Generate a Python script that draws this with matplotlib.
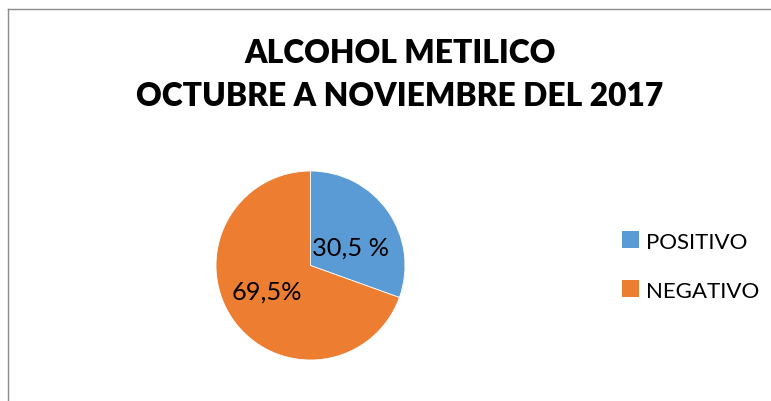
import matplotlib
matplotlib.use("Agg")
import matplotlib.pyplot as plt
from matplotlib.lines import Line2D
from matplotlib.patches import Rectangle

categories = ["POSITIVO", "NEGATIVO"]
values = [30.5, 69.5]
value_labels = ["30,5 %", "69,5%"]
colors = ["#5B9BD5", "#ED7D31"]
title_lines = ["ALCOHOL METILICO", "OCTUBRE A NOVIEMBRE DEL 2017"]

W, H = 771, 402
FONT = "Lato"
plt.rcParams["font.family"] = [FONT, "DejaVu Sans"]

fig = plt.figure(figsize=(W / 100, H / 100), dpi=100)
fig.patch.set_facecolor("white")

# chart frame (left and top edges visible)
fig.add_artist(Line2D([7.5 / W, 7.5 / W], [0, 1 - 9.5 / H], transform=fig.transFigure,
                      color="#8c8c8c", lw=1.0))
fig.add_artist(Line2D([7.5 / W, 1], [1 - 9.5 / H, 1 - 9.5 / H], transform=fig.transFigure,
                      color="#8c8c8c", lw=1.0))

# title
for yy, t in zip([53.5, 97], title_lines):
    fig.text(400 / W, 1 - yy / H, t, ha="center", va="center",
             fontsize=22.9, fontweight="heavy", color="black")

# pie
cx, cy, r = 310.5, 266.5, 94.5
ax = fig.add_axes([(cx - r) / W, (H - cy - r) / H, 2 * r / W, 2 * r / H])
wedges, _ = ax.pie(values, colors=colors, startangle=90, counterclock=False, radius=1,
                   wedgeprops=dict(edgecolor="white", linewidth=0.6))
ax.set_xlim(-1, 1)
ax.set_ylim(-1, 1)
ax.set_aspect("equal")
ax.axis("off")

label_pos = [(0.423, 0.19), (-0.46, -0.27)]
for (x, y), t in zip(label_pos, value_labels):
    ax.text(x, y, t, ha="center", va="center", fontsize=18.3, color="black")

# legend
handles = [Rectangle((0, 0), 1, 1, facecolor=c, edgecolor="none") for c in colors]
leg = fig.legend(handles, categories, loc="center left",
                 bbox_to_anchor=(611 / W, 1 - 267 / H), frameon=False,
                 fontsize=16, handlelength=0.78, handleheight=0.78,
                 handletextpad=0.3, labelspacing=1.3, borderpad=0)

fig.savefig("out.png", dpi=100)
